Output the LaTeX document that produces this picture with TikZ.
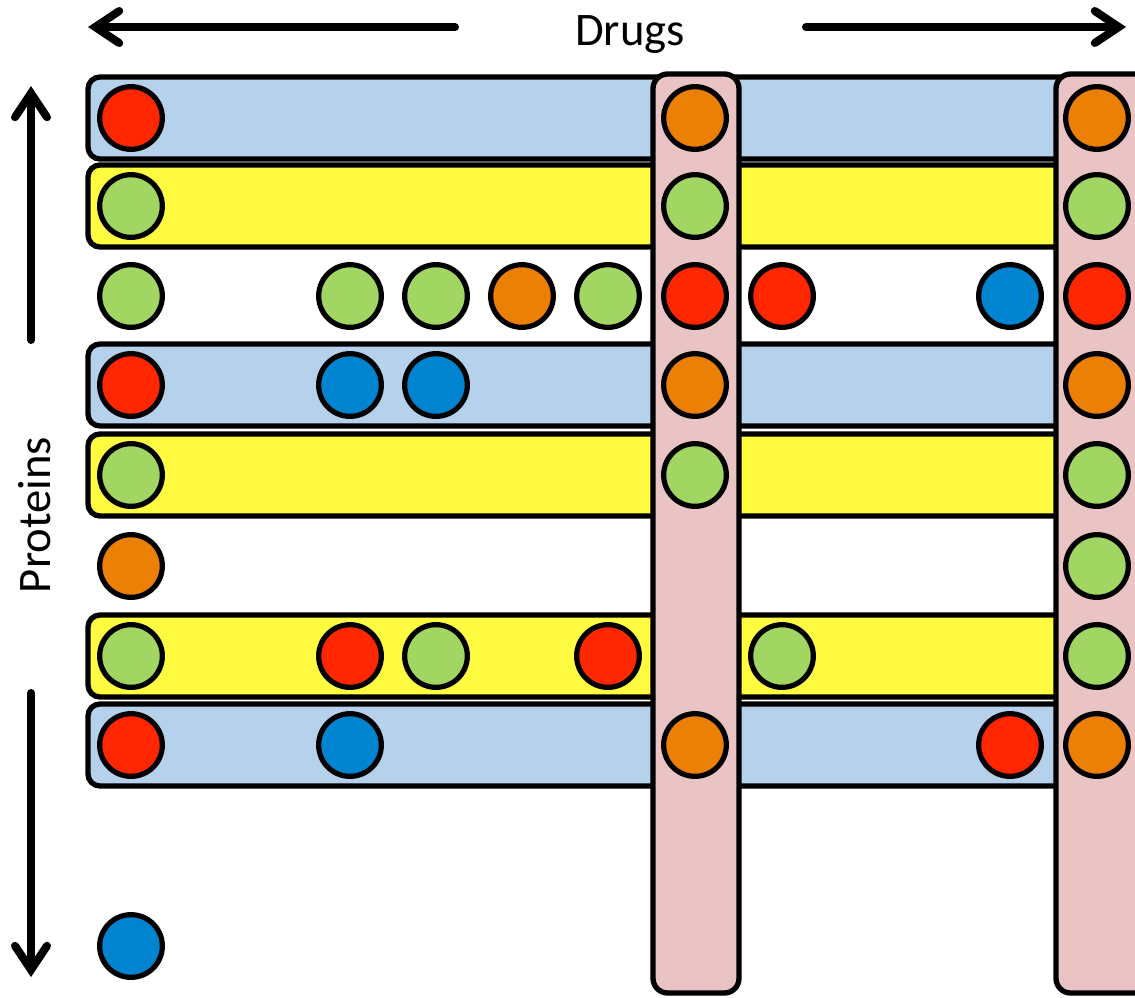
\documentclass[tikz,border=0pt]{standalone}
\usepackage{fontspec}
\setmainfont{Carlito}
\usetikzlibrary{arrows.meta}
\definecolor{barblue}{HTML}{B6D1EC}
\definecolor{baryellow}{HTML}{FFFB40}
\definecolor{colpink}{HTML}{EAC4C4}
\definecolor{cred}{HTML}{FF2600}
\definecolor{corange}{HTML}{EC8004}
\definecolor{cgreen}{HTML}{A1D662}
\definecolor{cblue}{HTML}{0084CF}
\begin{document}
\begin{tikzpicture}[x=0.75pt,y=-0.75pt,
  bar/.style={draw=black,line width=4pt,rounded corners=9pt},
  column/.style={draw=black,line width=4pt,fill=colpink,rounded corners=11pt},
  dot/.style={circle,draw=black,line width=3.9pt,minimum size=47pt,inner sep=0pt},
  axis/.style={line width=6pt,line cap=round,
    -{Straight Barb[length=18pt,width=24pt,line cap=round,line join=miter]}},
  label/.style={font=\fontsize{35}{40}\selectfont}]
\useasboundingbox (0,0) rectangle (1135,997);
\clip (0,0) rectangle (1135,997);

% axis arrows
\coordinate (dl0) at (455,27);  \coordinate (dl1) at (88,27);
\coordinate (dr0) at (806,27);  \coordinate (dr1) at (1126,27);
\coordinate (pu0) at (31,340);  \coordinate (pu1) at (31,86);
\coordinate (pd0) at (31,693);  \coordinate (pd1) at (31,977);
\draw[axis] (dl0) -- (dl1);
\draw[axis] (dr0) -- (dr1);
\draw[axis] (pu0) -- (pu1);
\draw[axis] (pd0) -- (pd1);
\node[label,anchor=base] (drugs) at (630,45) {Drugs};
\node[label,anchor=base,rotate=90] (proteins) at (50,515) {Proteins};

% protein rows
\foreach \y/\c in {118/barblue,206/baryellow,385/barblue,475/baryellow,656/baryellow,745/barblue}
  \draw[bar,fill=\c] (88,\y-41) rectangle (1090,\y+41);

% drug columns
\draw[column] (653,74) rectangle (739,993);
\draw[column] (1056,74) rectangle (1160,993);

% interactions
\foreach \x/\y/\c/\n in {
  131/118/cred/a1, 695/118/corange/a7, 1097/118/corange/a9,
  131/206/cgreen/b1, 695/206/cgreen/b7, 1097/206/cgreen/b9,
  131/296/cgreen/c1, 350/296/cgreen/c2, 436/296/cgreen/c3, 522/296/corange/c4,
  608/296/cgreen/c5, 695/296/cred/c7, 782/296/cred/c8, 1010/296/cblue/c9, 1097/296/cred/c10,
  131/385/cred/d1, 350/385/cblue/d2, 436/385/cblue/d3, 695/385/corange/d7, 1097/385/corange/d9,
  131/475/cgreen/e1, 695/475/cgreen/e7, 1097/475/cgreen/e9,
  131/566/corange/f1, 1097/566/cgreen/f9,
  131/656/cgreen/g1, 350/656/cred/g2, 436/656/cgreen/g3, 608/656/cred/g5,
  782/656/cgreen/g8, 1097/656/cgreen/g9,
  131/745/cred/h1, 350/745/cblue/h2, 695/745/corange/h7, 1010/745/cred/h8, 1097/745/corange/h9,
  131/946/cblue/i1}
  \node[dot,fill=\c] (\n) at (\x,\y) {};
\end{tikzpicture}
\end{document}
